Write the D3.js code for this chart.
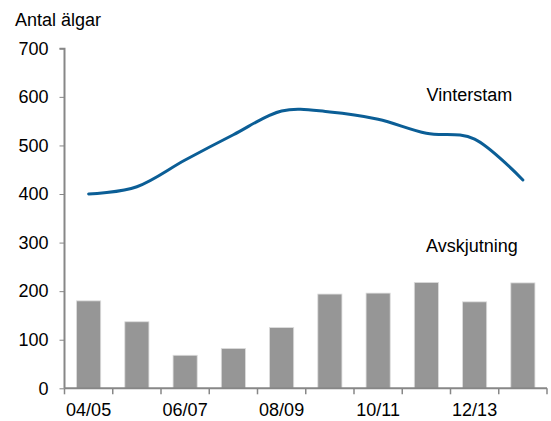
<!DOCTYPE html>
<html>
<head>
<meta charset="utf-8">
<script src="https://cdn.jsdelivr.net/npm/d3@7"></script>
<style>
  body { margin: 0; background: #fff; }
  svg { display: block; font-family: "Liberation Sans", Arial, sans-serif; }
</style>
</head>
<body>
<div id="chart"></div>
<script>
// seasons (x categories)
const seasons = ["04/05", "05/06", "06/07", "07/08", "08/09", "09/10", "10/11", "11/12", "12/13", "13/14"];
// winter population (line)
const vinterstam = [400, 415, 470, 522, 571, 569, 554, 525, 513, 429];
// harvest (bars)
const avskjutning = [180, 137, 68, 82, 125, 194, 196, 218, 178, 217];
const yTicks = [0, 100, 200, 300, 400, 500, 600, 700];
const xLabelShown = ["04/05", "06/07", "08/09", "10/11", "12/13"];

const width = 551;
const height = 421;
const margin = { top: 48.3, right: 4, bottom: 32.7, left: 64.5 };
const innerWidth = width - margin.left - margin.right;
const innerHeight = height - margin.top - margin.bottom;
const axisGray = "#878787";

const svg = d3.select("#chart")
    .append("svg")
    .attr("width", width)
    .attr("height", height);

const innerChart = svg.append("g")
    .attr("transform", `translate(${margin.left},${margin.top})`);

const xScale = d3.scaleBand()
    .domain(seasons)
    .range([0, innerWidth])
    .paddingInner(0.5)
    .paddingOuter(0.25);

const yScale = d3.scaleLinear()
    .domain([0, 700])
    .range([innerHeight, 0]);

// bars
innerChart.selectAll(".bar")
    .data(seasons)
    .join("rect")
        .attr("class", "bar")
        .attr("x", d => xScale(d))
        .attr("y", (d, i) => yScale(avskjutning[i]))
        .attr("width", xScale.bandwidth())
        .attr("height", (d, i) => innerHeight - yScale(avskjutning[i]))
        .attr("fill", "#969696")
        .attr("stroke", "#dcdcdc")
        .attr("stroke-width", 0.8);

// line
const lineGenerator = d3.line()
    .x((d, i) => xScale(seasons[i]) + xScale.bandwidth() / 2)
    .y(d => yScale(d))
    .curve(d3.curveCardinal.tension(0));

innerChart.append("path")
    .datum(vinterstam)
    .attr("d", lineGenerator)
    .attr("fill", "none")
    .attr("stroke", "#0b5e96")
    .attr("stroke-width", 3)
    .attr("stroke-linecap", "round");

// y axis
const leftAxis = d3.axisLeft(yScale)
    .tickValues(yTicks)
    .tickSize(5)
    .tickPadding(11);

const yAxisG = innerChart.append("g").call(leftAxis);
yAxisG.select(".domain").attr("stroke", axisGray).attr("stroke-width", 2).attr("d", `M-5,0.5H0V${innerHeight}`);
yAxisG.selectAll(".tick line").attr("stroke", axisGray);
yAxisG.selectAll(".tick text")
    .attr("fill", "#000")
    .style("font-size", "18px")
    .style("font-family", "Liberation Sans, Arial, sans-serif");

// x axis: ticks at band boundaries
const step = xScale.step();
const boundaries = d3.range(seasons.length + 1).map(i => i * step);

const xAxisG = innerChart.append("g")
    .attr("transform", `translate(0,${innerHeight})`);

xAxisG.append("line")
    .attr("x1", 0)
    .attr("x2", innerWidth)
    .attr("stroke", axisGray)
    .attr("stroke-width", 2);

xAxisG.selectAll(".xtick")
    .data(boundaries)
    .join("line")
        .attr("class", "xtick")
        .attr("x1", d => d)
        .attr("x2", d => d)
        .attr("y1", 0)
        .attr("y2", 6)
        .attr("stroke", axisGray)
        .attr("stroke-width", 1.5);

xAxisG.selectAll(".xlabel")
    .data(xLabelShown)
    .join("text")
        .attr("class", "xlabel")
        .attr("x", d => xScale(d) + xScale.bandwidth() / 2)
        .attr("y", 28)
        .attr("text-anchor", "middle")
        .style("font-size", "18px")
        .text(d => d);

// axis title
svg.append("text")
    .attr("x", 15)
    .attr("y", 26)
    .style("font-size", "18px")
    .text("Antal älgar");

// series labels
innerChart.append("text")
    .attr("x", 426.5 - margin.left)
    .attr("y", 100.7 - margin.top)
    .style("font-size", "18px")
    .text("Vinterstam");

innerChart.append("text")
    .attr("x", 426 - margin.left)
    .attr("y", 251.7 - margin.top)
    .style("font-size", "18px")
    .text("Avskjutning");
</script>
</body>
</html>
